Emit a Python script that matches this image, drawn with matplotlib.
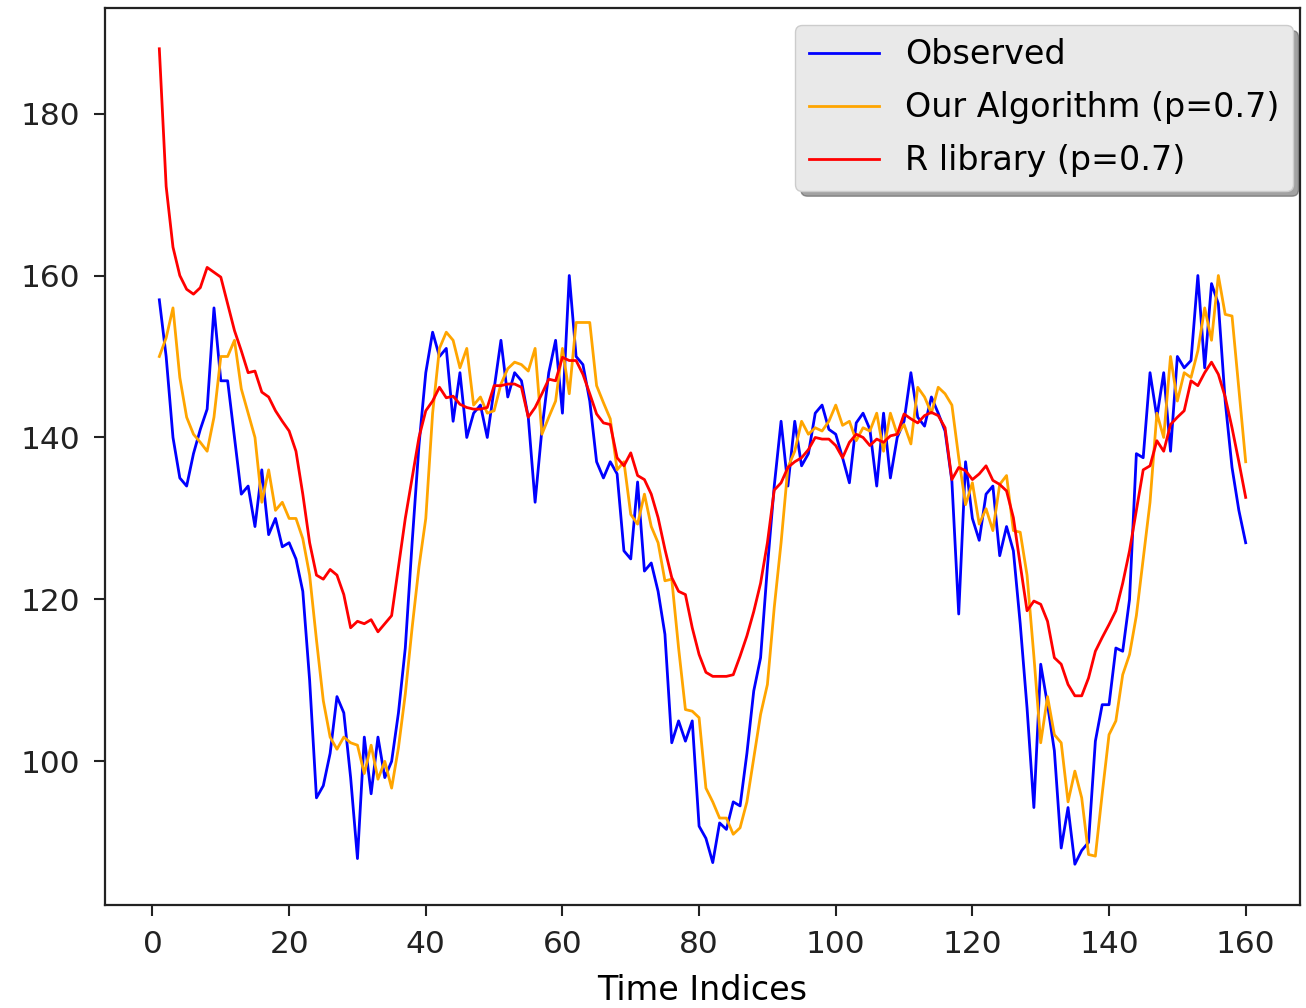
import matplotlib
matplotlib.use("Agg")
import matplotlib.pyplot as plt
import numpy as np

observed = [
    157, 150, 140, 135, 134, 138, 141, 143.5, 156, 147,
    147, 140, 133, 134, 129, 136, 128, 130, 126.5, 127,
    125, 121, 110, 95.5, 97, 101, 108, 106, 98, 88,
    103, 96, 103, 98, 100, 106, 114, 127, 139, 148,
    153, 150, 151, 142, 148, 140, 143, 144, 140, 146,
    152, 145, 148, 147, 142.5, 132, 141, 148, 152, 143,
    160, 150, 149, 144.5, 137, 135, 137, 135.5, 126, 125,
    134.5, 123.5, 124.5, 121, 115.7, 102.3, 105, 102.5, 105, 92,
    90.5, 87.5, 92.4, 91.6, 95, 94.5, 101, 108.7, 112.8, 124,
    134, 142, 134, 142, 136.5, 138, 143, 144, 141, 140.4,
    137.5, 134.4, 141.8, 143, 141, 134, 143, 135, 140, 142,
    148, 142.5, 141.4, 145, 143, 140.8, 134.6, 118.2, 137, 130,
    127.3, 133, 134, 125.4, 129, 126, 117, 106.6, 94.3, 112,
    107, 101.3, 89.3, 94.3, 87.3, 89, 90, 102.5, 107, 107,
    114, 113.6, 120, 138, 137.5, 148, 142.5, 148, 138.3, 150,
    148.6, 149.5, 160, 148.6, 159, 156.5, 144.5, 136.3, 131, 127,
]

our_algorithm = [
    150, 152.3, 156, 147.4, 142.5, 140.4, 139.4, 138.3, 142.5, 150,
    150, 152, 146, 143, 140, 132, 136, 131, 132, 130,
    130, 127.5, 123, 115, 107.5, 103, 101.5, 103, 102.3, 102,
    98.5, 102, 97.8, 100, 96.7, 101.7, 108.3, 116.5, 124, 130,
    143, 151, 153, 152, 148.6, 151, 144, 145, 143, 143.3,
    146.6, 148.5, 149.3, 149, 148.2, 151, 140.4, 142.5, 144.5, 151,
    145.4, 154.2, 154.2, 154.2, 146.4, 144.3, 142.3, 136, 137, 130.5,
    129.3, 133, 129, 127, 122.3, 122.5, 114, 106.4, 106.2, 105.4,
    96.7, 95, 93, 93, 91, 91.8, 95, 100.4, 105.8, 109.5,
    119, 127, 136.3, 138.3, 142, 140.4, 141.2, 140.8, 142, 144,
    141.5, 142, 139.6, 141.2, 140.8, 143, 138.3, 143, 140.4, 141.6,
    139.2, 146.2, 145, 143, 146.2, 145.4, 144, 137.5, 131.7, 134.4,
    129.3, 131.2, 128.5, 134.2, 135.3, 128.5, 128.3, 123, 113, 102.3,
    108, 103.3, 102.3, 95, 98.8, 95.5, 88.5, 88.3, 96, 103.3,
    105, 110.7, 113.2, 118, 125, 132, 143, 140, 150, 144.5,
    148, 147.4, 150.7, 156, 152, 160, 155.2, 155, 146, 137,
]

r_library = [
    188, 171, 163.5, 160, 158.3, 157.7, 158.5, 161, 160.4, 159.8,
    156.5, 153.2, 150.7, 148, 148.2, 145.6, 145, 143.3, 142, 140.8,
    138.3, 133, 127, 123, 122.5, 123.7, 123, 120.6, 116.5, 117.3,
    117, 117.5, 116, 117, 118, 124, 130, 135, 140, 143.3,
    144.5, 146.2, 144.9, 145.1, 144.1, 143.7, 143.5, 143.5, 143.7, 146.4,
    146.4, 146.6, 146.6, 146.2, 142.5, 143.7, 145.4, 147.2, 147, 149.9,
    149.5, 149.5, 147.8, 145.4, 142.9, 141.8, 141.6, 137.5, 136.5, 138.1,
    135.3, 134.8, 133, 130.1, 126.2, 122.7, 121, 120.6, 116.5, 113.2,
    111, 110.5, 110.5, 110.5, 110.7, 113, 115.5, 118.5, 122, 127,
    133.5, 134.4, 136.3, 137, 137.5, 138.5, 140, 139.8, 139.8, 139,
    137.5, 139.4, 140.4, 140, 139, 139.8, 139.4, 140.2, 140.4, 142.9,
    142.3, 141.8, 142.7, 143.1, 142.7, 141.2, 134.8, 136.3, 135.9, 134.8,
    135.5, 136.5, 134.7, 134.2, 133.4, 130.1, 124.3, 118.6, 119.8, 119.4,
    117.3, 112.8, 112, 109.5, 108.1, 108.1, 110.3, 113.6, 115.3, 116.9,
    118.6, 122, 126, 131, 136, 136.5, 139.6, 138.3, 141.6, 142.5,
    143.3, 147, 146.4, 148, 149.3, 147.8, 145, 141.2, 137, 132.6,
]

labels = ["Observed", "Our Algorithm (p=0.7)", "R library (p=0.7)"]
colors = ["blue", "orange", "red"]
xlabel = "Time Indices"

plt.rcParams['font.family'] = ['DejaVu Sans']
TICK_FS = 22.5
LEG_FS = 24
LAB_FS = 24

fig = plt.figure(figsize=(13.06, 10.08), dpi=100)
ax = fig.add_axes([105 / 1306, (1008 - 905) / 1008, (1300 - 105) / 1306, (905 - 8) / 1008])

for series, lab, col in zip([observed, our_algorithm, r_library], labels, colors):
    x = np.arange(1, len(series) + 1)
    ax.plot(x, series, color=col, lw=2.0, label=lab)

ax.set_xticks([0, 20, 40, 60, 80, 100, 120, 140, 160])
ax.set_yticks([100, 120, 140, 160, 180])
ax.tick_params(labelsize=TICK_FS, length=8, width=1.5, pad=10, colors='#222222')
for sp in ax.spines.values():
    sp.set_linewidth(1.6)
    sp.set_color('#222222')
ax.set_xlabel(xlabel, fontsize=LAB_FS, labelpad=11)

axw, axh = 1195, 897
leg = ax.legend(loc='upper right',
                bbox_to_anchor=((1293 - 105) / axw, 1 - (25 - 8) / axh),
                borderaxespad=0, fontsize=LEG_FS, fancybox=True,
                shadow={'ox': 4, 'oy': -4},
                facecolor='#e9e9e9', edgecolor='#cccccc', framealpha=1,
                handlelength=2.1, labelspacing=0.6)

fig.savefig("out.png", dpi=100)
